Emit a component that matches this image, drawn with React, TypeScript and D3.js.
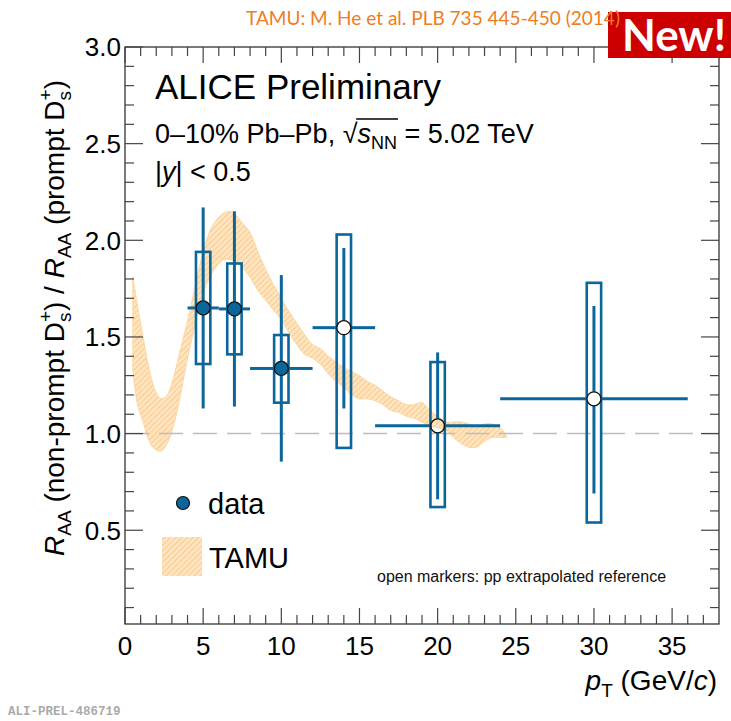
import React, { useLayoutEffect, useRef, useState } from 'react';
import * as d3 from 'd3';

// ALICE D_s+ non-prompt / prompt R_AA ratio, 0-10% Pb-Pb 5.02 TeV
const ptCenter = [5, 7, 10, 14, 20, 30];
const ptLow = [4, 6, 8, 12, 16, 24];
const ptHigh = [6, 8, 12, 16, 24, 36];
const ratio = [1.65, 1.645, 1.337, 1.548, 1.04, 1.18];
const statLow = [1.13, 1.14, 0.855, 1.13, 0.66, 0.69];
const statHigh = [2.17, 2.15, 1.82, 1.96, 1.42, 1.66];
const systLow = [1.36, 1.41, 1.16, 0.926, 0.62, 0.54];
const systHigh = [1.94, 1.88, 1.51, 2.03, 1.37, 1.78];
const ppExtrapolated = [false, false, false, true, true, true];

// TAMU model band
const tamuPt = [0.5, 0.8, 1.2, 1.5, 1.9, 2.3, 2.7, 3.1, 3.5, 3.9, 4.3, 4.7, 5.1, 5.5, 5.9, 6.3, 6.7, 7.1, 7.5, 8.0, 8.5, 9.0, 9.5, 10.0, 10.5, 11.0, 11.5, 12.0, 12.5, 13.0, 13.5, 14.0, 14.5, 15.0, 15.5, 16.0, 16.5, 17.0, 17.5, 18.0, 18.5, 19.0, 19.5, 20.0, 20.5, 21.0, 21.5, 22.0, 22.5, 23.0, 23.5, 24.0, 24.4];
const tamuHigh = [1.81, 1.66, 1.48, 1.35, 1.23, 1.18, 1.2, 1.29, 1.42, 1.55, 1.69, 1.84, 1.97, 2.06, 2.11, 2.14, 2.15, 2.13, 2.09, 2.04, 1.94, 1.85, 1.77, 1.7, 1.63, 1.57, 1.51, 1.46, 1.44, 1.4, 1.37, 1.34, 1.32, 1.3, 1.27, 1.25, 1.22, 1.19, 1.17, 1.15, 1.15, 1.16, 1.12, 1.09, 1.06, 1.06, 1.06, 1.05, 1.03, 1.05, 1.05, 1.03, 0.99];
const tamuLow = [1.33, 1.15, 1.05, 0.97, 0.92, 0.91, 0.95, 1.04, 1.18, 1.35, 1.5, 1.64, 1.75, 1.82, 1.87, 1.9, 1.9, 1.89, 1.86, 1.81, 1.74, 1.69, 1.64, 1.59, 1.52, 1.46, 1.41, 1.39, 1.36, 1.31, 1.27, 1.24, 1.2, 1.18, 1.18, 1.17, 1.15, 1.12, 1.11, 1.09, 1.08, 1.06, 1.04, 1.03, 1.02, 0.98, 0.95, 0.93, 0.93, 0.96, 0.98, 0.98, 0.98];

const xTicks = [0, 5, 10, 15, 20, 25, 30, 35];
const yTicks = [0.5, 1.0, 1.5, 2.0, 2.5, 3.0];

const W = 731;
const H = 721;
const frame = { left: 125, right: 719, top: 47, bottom: 624 };
const blue = '#0b669a';
const font = '"Liberation Sans", Arial, Helvetica, sans-serif';

const App = () => {
  const sqrtRef = useRef<SVGTSpanElement | null>(null);
  const nnRef = useRef<SVGTSpanElement | null>(null);
  const svgRef = useRef<SVGSVGElement | null>(null);
  const [bar, setBar] = useState<{ x1: number; x2: number } | null>(null);

  const x = d3.scaleLinear().domain([0, 38]).range([frame.left, frame.right]);
  const y = d3.scaleLinear().domain([0.015, 3]).range([frame.bottom, frame.top]);

  const tamu = tamuPt.map((p, i) => ({ p, lo: tamuLow[i], hi: tamuHigh[i] }));
  const band = d3
    .area<{ p: number; lo: number; hi: number }>()
    .x((d) => x(d.p))
    .y0((d) => y(d.lo))
    .y1((d) => y(d.hi))
    .curve(d3.curveCatmullRom)(tamu);

  useLayoutEffect(() => {
    if (!sqrtRef.current || !nnRef.current || !svgRef.current) return;
    const s = svgRef.current.getBoundingClientRect();
    const a = sqrtRef.current.getBoundingClientRect();
    const b = nnRef.current.getBoundingClientRect();
    setBar({ x1: a.right - s.left - 1.5, x2: b.right - s.left + 1 });
  }, []);

  const yMinor = d3.range(0.1, 3.0001, 0.1).filter((v) => Math.abs(v * 2 - Math.round(v * 2)) > 1e-6);
  const xMinor = d3.range(1, 38, 1).filter((v) => v % 5 !== 0);
  const half = 0.46;
  const r = 7;

  return (
    <svg
      ref={svgRef}
      width={W}
      height={H}
      style={{ position: 'absolute', left: 0, top: 0, background: '#fff' }}
      fontFamily={font}
    >
      <defs>
        <pattern id="hatch" width="4" height="4" patternUnits="userSpaceOnUse" patternTransform="rotate(45)">
          <rect width="4" height="4" fill="#fee4c0" />
          <line x1="0" y1="0" x2="0" y2="4" stroke="#fbc47e" strokeWidth="1.6" />
        </pattern>
      </defs>

      {/* TAMU band */}
      <path d={band ?? ''} fill="url(#hatch)" stroke="#fdd6a2" strokeWidth={1} />

      {/* reference line */}
      <line
        x1={frame.left}
        x2={frame.right}
        y1={y(1)}
        y2={y(1)}
        stroke="#bdbdbd"
        strokeWidth={1.5}
        strokeDasharray="24 10"
      />

      {/* frame */}
      <rect
        x={frame.left}
        y={frame.top}
        width={frame.right - frame.left}
        height={frame.bottom - frame.top}
        fill="none"
        stroke="#222"
        strokeWidth={1.2}
      />
      <g stroke="#444" strokeWidth={1.2}>
        {yTicks.map((t) => (
          <g key={'yt' + t}>
            <line x1={frame.left} x2={frame.left + 18} y1={y(t)} y2={y(t)} />
            <line x1={frame.right} x2={frame.right - 18} y1={y(t)} y2={y(t)} />
          </g>
        ))}
        {yMinor.map((t) => (
          <g key={'ym' + t}>
            <line x1={frame.left} x2={frame.left + 9} y1={y(t)} y2={y(t)} />
            <line x1={frame.right} x2={frame.right - 9} y1={y(t)} y2={y(t)} />
          </g>
        ))}
        {xTicks.map((t) => (
          <g key={'xt' + t}>
            <line x1={x(t)} x2={x(t)} y1={frame.bottom} y2={frame.bottom - 16} />
            <line x1={x(t)} x2={x(t)} y1={frame.top} y2={frame.top + 16} />
          </g>
        ))}
        {xMinor.map((t) => (
          <g key={'xm' + t}>
            <line x1={x(t)} x2={x(t)} y1={frame.bottom} y2={frame.bottom - 9} />
            <line x1={x(t)} x2={x(t)} y1={frame.top} y2={frame.top + 9} />
          </g>
        ))}
      </g>

      {/* tick labels */}
      {yTicks.map((t) => (
        <text key={'yl' + t} x={frame.left - 4} y={y(t)} dy="0.36em" textAnchor="end" fontSize={26} fill="#000">
          {t.toFixed(1)}
        </text>
      ))}
      {xTicks.map((t) => (
        <text key={'xl' + t} x={x(t)} y={655} textAnchor="middle" fontSize={26} fill="#000">
          {t}
        </text>
      ))}

      {/* axis titles */}
      <text x={717} y={690} textAnchor="end" fontSize={28} fill="#000">
        <tspan fontStyle="italic">p</tspan>
        <tspan fontSize={19} dy={7}>T</tspan>
        <tspan dy={-7}> (GeV/</tspan>
        <tspan fontStyle="italic">c</tspan>
        <tspan>)</tspan>
      </text>
      <text transform="translate(64,318) rotate(-90)" textAnchor="middle" fontSize={28} fill="#000">
        <tspan fontStyle="italic">R</tspan>
        <tspan fontSize={19} dy={7}>AA</tspan>
        <tspan dy={-7}> (non-prompt D</tspan>
        <tspan fontSize={19} dy={7}>s</tspan>
        <tspan fontSize={19} dx={-9.5} dy={-19}>+</tspan>
        <tspan dy={12}>) / </tspan>
        <tspan fontStyle="italic">R</tspan>
        <tspan fontSize={19} dy={7}>AA</tspan>
        <tspan dy={-7}> (prompt D</tspan>
        <tspan fontSize={19} dy={7}>s</tspan>
        <tspan fontSize={19} dx={-9.5} dy={-19}>+</tspan>
        <tspan dy={12}>)</tspan>
      </text>

      {/* labels inside */}
      <text x={155} y={99} fontSize={35} fill="#000">
        ALICE Preliminary
      </text>
      <text x={155} y={143} fontSize={27} fill="#000">
        <tspan>0–10% Pb–Pb, </tspan>
        <tspan ref={sqrtRef}>√</tspan>
        <tspan fontStyle="italic">s</tspan>
        <tspan ref={nnRef} fontSize={18} dy={6}>NN</tspan>
        <tspan dy={-6}> = 5.02 TeV</tspan>
      </text>
      {bar && <line x1={bar.x1} x2={bar.x2} y1={119} y2={119} stroke="#000" strokeWidth={1.4} />}
      <text x={155} y={181} fontSize={27} fill="#000">
        |<tspan fontStyle="italic">y</tspan>| &lt; 0.5
      </text>

      {/* data: systematic boxes */}
      {ptCenter.map((p, i) => (
        <rect
          key={'sys' + i}
          x={x(p - half)}
          y={y(systHigh[i])}
          width={x(p + half) - x(p - half)}
          height={y(systLow[i]) - y(systHigh[i])}
          fill="none"
          stroke={blue}
          strokeWidth={2.6}
        />
      ))}
      {/* statistical bars */}
      {ptCenter.map((p, i) => (
        <g key={'stat' + i} stroke={blue} strokeWidth={3}>
          <line x1={x(p)} x2={x(p)} y1={y(statHigh[i])} y2={y(ratio[i]) - r} />
          <line x1={x(p)} x2={x(p)} y1={y(ratio[i]) + r} y2={y(statLow[i])} />
          <line x1={x(ptLow[i])} x2={x(p) - r} y1={y(ratio[i])} y2={y(ratio[i])} />
          <line x1={x(p) + r} x2={x(ptHigh[i])} y1={y(ratio[i])} y2={y(ratio[i])} />
        </g>
      ))}
      {ptCenter.map((p, i) => (
        <circle
          key={'m' + i}
          cx={x(p)}
          cy={y(ratio[i])}
          r={r}
          fill={ppExtrapolated[i] ? (i === 4 ? 'none' : '#fff') : blue}
          stroke="#111"
          strokeWidth={1.3}
        />
      ))}

      {/* legend */}
      <circle cx={183} cy={503} r={6.5} fill={blue} stroke="#111" strokeWidth={1.2} />
      <text x={208} y={514} fontSize={29} fill="#000">
        data
      </text>
      <rect x={162} y={537} width={40} height={39} fill="url(#hatch)" />
      <text x={209} y={568} fontSize={29} fill="#000">
        TAMU
      </text>
      <text x={377} y={582} fontSize={16} fill="#111">
        open markers: pp extrapolated reference
      </text>

      {/* New! badge */}
      <rect x={608} y={12} width={123} height={46} fill="#cc0000" />
      <text x={674} y={51} textAnchor="middle" fontFamily="Lato, 'Open Sans', sans-serif" fontWeight="bold" fontSize={44} fill="#fff">
        New!
      </text>
      <text
        x={246}
        y={25}
        fontFamily="Lato, 'Open Sans', sans-serif"
        fontSize={19}
        fill="#ee7d22"
        textLength={374}
        lengthAdjust="spacingAndGlyphs"
      >
        TAMU: M. He et al. PLB 735 445-450 (2014)
      </text>

      <text x={8} y={715} fontFamily="'Liberation Mono', monospace" fontWeight="bold" fontSize={12.5} fill="#aaa">
        ALI-PREL-486719
      </text>
    </svg>
  );
};

export default App;
